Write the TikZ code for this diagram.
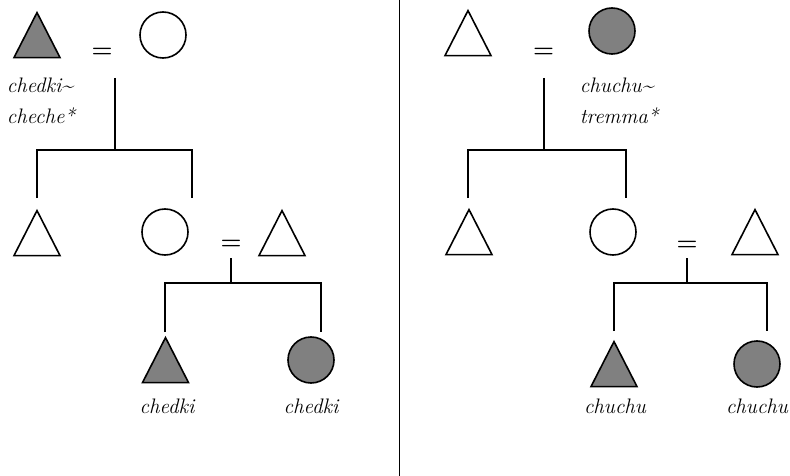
\documentclass[tikz,border=0pt]{standalone}
\usetikzlibrary{shapes.geometric}
\definecolor{kinfill}{gray}{0.5}
\begin{document}
\begin{tikzpicture}[x=1pt,y=-1pt,
  line width=1.6pt,
  male/.style={isosceles triangle, shape border rotate=90, isosceles triangle stretches,
     minimum width=46pt, minimum height=45pt, inner sep=0pt, draw, anchor=apex},
  female/.style={circle, minimum size=46pt, inner sep=0pt, draw},
  marked/.style={fill=kinfill},
  marry/.style={font=\fontsize{24}{28}\selectfont\bfseries, inner sep=0pt},
  lbl/.style={font=\fontsize{21}{24}\selectfont\itshape, inner sep=0pt},
  kin/.style={line width=1.6pt}]
\useasboundingbox (0,0) rectangle (790,476);

% divider
\draw[line width=1.3pt] (399.5,0) -- (399.5,476);

% ---------- left panel ----------
\node[male, marked] (T1) at (37,10.5) {};
\node[marry] (E1) at (102,53) {=};
\node[female] (C1) at (163,35) {};
\node[lbl, anchor=base west] (L1a) at (6,93) {chedki\textasciitilde};
\node[lbl, anchor=base west] (L1b) at (6,124) {cheche*};

\coordinate (m1) at (115,78);
\coordinate (j1) at (115,150);
\coordinate (a1) at (37,150);
\coordinate (b1) at (192,150);
\coordinate (a1e) at (37,198);
\coordinate (b1e) at (192,198);
\draw[kin] (m1) -- (j1);
\draw[kin] (a1e) -- (a1) -- (b1) -- (b1e);

\node[male] (T2) at (37,208.5) {};
\node[female] (C2) at (165,232) {};
\node[marry] (E2) at (231,245) {=};
\node[male] (T3) at (282,208.5) {};

\coordinate (m2) at (231,258);
\coordinate (j2) at (231,283);
\coordinate (a2) at (165,283);
\coordinate (b2) at (321,283);
\coordinate (a2e) at (165,332);
\coordinate (b2e) at (321,332);
\draw[kin] (m2) -- (j2);
\draw[kin] (a2e) -- (a2) -- (b2) -- (b2e);

\node[male, marked] (T4) at (165.5,335.5) {};
\node[female, marked] (C3) at (311,360) {};
\node[lbl, anchor=base] (L2) at (167,413) {chedki};
\node[lbl, anchor=base] (L3) at (311,413) {chedki};

% ---------- right panel ----------
\node[male] (T5) at (468,8.5) {};
\node[marry] (E3) at (543.5,53) {=};
\node[female, marked] (C4) at (612,31) {};
\node[lbl, anchor=base west] (L4a) at (579,93) {chuchu\textasciitilde};
\node[lbl, anchor=base west] (L4b) at (579,124) {tremma*};

\coordinate (m3) at (544,78);
\coordinate (j3) at (544,150);
\coordinate (a3) at (468,150);
\coordinate (b3) at (626,150);
\coordinate (a3e) at (468,198);
\coordinate (b3e) at (626,198);
\draw[kin] (m3) -- (j3);
\draw[kin] (a3e) -- (a3) -- (b3) -- (b3e);

\node[male] (T6) at (469,207.5) {};
\node[female] (C5) at (613,232) {};
\node[marry] (E4) at (687,246) {=};
\node[male] (T7) at (755,207.5) {};

\coordinate (m4) at (687,258);
\coordinate (j4) at (687,283);
\coordinate (a4) at (614,283);
\coordinate (b4) at (767,283);
\coordinate (a4e) at (614,331);
\coordinate (b4e) at (767,331);
\draw[kin] (m4) -- (j4);
\draw[kin] (a4e) -- (a4) -- (b4) -- (b4e);

\node[male, marked] (T8) at (614,339.5) {};
\node[female, marked] (C6) at (757,364) {};
\node[lbl, anchor=base] (L5) at (615,413) {chuchu};
\node[lbl, anchor=base] (L6) at (757,413) {chuchu};
\end{tikzpicture}
\end{document}
